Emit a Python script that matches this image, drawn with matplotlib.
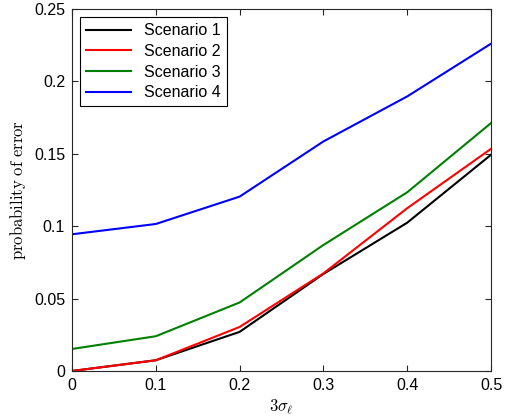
import matplotlib
matplotlib.use('Agg')
import matplotlib.pyplot as plt

plt.rcParams['font.family'] = ['Liberation Sans', 'DejaVu Sans']
plt.rcParams['mathtext.fontset'] = 'cm'

x = [0, 0.1, 0.2, 0.3, 0.4, 0.5]
s1 = [0.0, 0.0074, 0.027, 0.067, 0.1024, 0.1493]
s2 = [0.0, 0.0074, 0.0304, 0.0674, 0.1124, 0.1534]
s3 = [0.0152, 0.024, 0.0473, 0.087, 0.1234, 0.1712]
s4 = [0.0944, 0.1015, 0.1204, 0.1585, 0.1896, 0.226]
labels = ['Scenario 1', 'Scenario 2', 'Scenario 3', 'Scenario 4']
colors = ['black', '#ff0000', '#008000', '#0000ff']

fig = plt.figure(figsize=(5.12, 4.2), dpi=100)
ax = fig.add_axes([0.1406, 0.1167, 0.8184, 0.862])

for ys, lab, c in zip([s1, s2, s3, s4], labels, colors):
    ax.plot(x, ys, color=c, lw=1.5, label=lab)

ax.set_xlim(0, 0.5)
ax.set_ylim(0, 0.25)
ax.set_xticks(x)
ax.set_xticklabels(['0', '0.1', '0.2', '0.3', '0.4', '0.5'])
ax.set_yticks([0, 0.05, 0.1, 0.15, 0.2, 0.25])
ax.set_yticklabels(['0', '0.05', '0.1', '0.15', '0.2', '0.25'])
ax.tick_params(direction='in', top=True, right=True, labelsize=11.5, length=4,
               color='#262626', pad=5)
for sp in ax.spines.values():
    sp.set_color('#262626')
ax.set_xlabel(r'$3\sigma_\ell$', fontsize=12, labelpad=3)
ax.set_ylabel(r'$\mathrm{probability\ of\ error}$', fontsize=12)

leg = ax.legend(loc='upper left', fontsize=11.5, fancybox=False, edgecolor='black',
                framealpha=1, borderaxespad=0.5, handlelength=2.8, labelspacing=0.35)
leg.get_frame().set_linewidth(0.8)

fig.savefig('out.png', dpi=100)
